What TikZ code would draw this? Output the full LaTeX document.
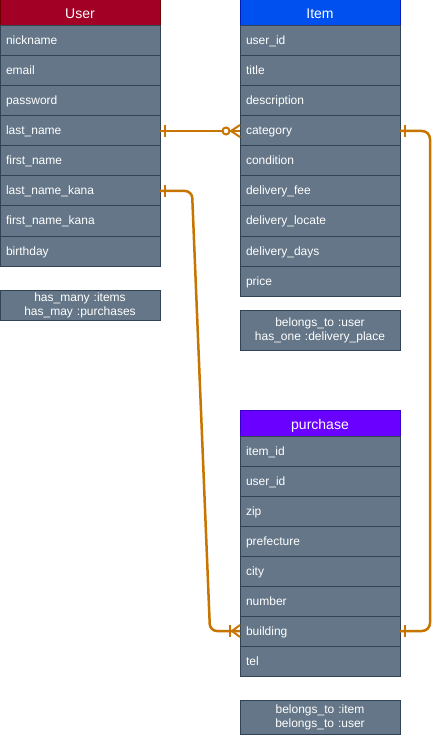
\documentclass[tikz,border=0pt]{standalone}
\usepackage{fontspec}
\setmainfont{Liberation Sans}
\definecolor{rowfill}{HTML}{647687}
\definecolor{rowline}{HTML}{314354}
\definecolor{userhead}{HTML}{A20025}
\definecolor{userheadline}{HTML}{6F0000}
\definecolor{itemhead}{HTML}{0050EF}
\definecolor{itemheadline}{HTML}{001DBC}
\definecolor{purchhead}{HTML}{6A00FF}
\definecolor{purchheadline}{HTML}{3700CC}
\definecolor{conn}{HTML}{C87400}
\begin{document}
\begin{tikzpicture}[x=1pt,y=-1pt,
  rowbox/.style={draw=rowline, fill=rowfill, text=white, text width=148pt, minimum height=30pt,
    text height=10pt, text depth=2pt,
    inner xsep=6pt, inner ysep=0pt, align=left, anchor=north west, outer sep=0pt,
    font=\fontsize{12}{14}\selectfont, line width=1pt},
  headbox/.style={draw=#1line, fill=#1, text=white, text width=148pt, minimum height=26pt,
    text height=12pt, text depth=0pt,
    inner xsep=6pt, inner ysep=0pt, align=center, anchor=north west, outer sep=0pt,
    font=\fontsize{14}{16}\selectfont, line width=1pt},
  notebox/.style={draw=rowline, fill=rowfill, text=white, text width=148pt, minimum height=#1,
    inner xsep=6pt, inner ysep=0pt, align=center, anchor=north west, outer sep=0pt,
    font=\fontsize{12}{14}\selectfont, line width=1pt},
  connline/.style={draw=conn, line width=2.5pt},
  markline/.style={draw=conn, line width=2pt},
]
\useasboundingbox (0,0) rectangle (441,735);

% User table
\node[headbox=userhead] (user-h) at (0,0) {User};
\foreach \t [count=\i] in {nickname,email,password,last\_name,first\_name,last\_name\_kana,first\_name\_kana,birthday}
  \node[rowbox] (user-\i) at (0,{26+30*(\i-1)}) {\t};
\node[notebox=30pt] (user-n) at (0,290) {has\_many :items\\has\_may :purchases};

% Item table
\node[headbox=itemhead] (item-h) at (240,0) {Item};
\foreach \t [count=\i] in {user\_id,title,description,category,condition,delivery\_fee,delivery\_locate,delivery\_days,price}
  \node[rowbox] (item-\i) at (240,{26+30*(\i-1)}) {\t};
\node[notebox=40pt] (item-n) at (240,310) {belongs\_to :user\\has\_one :delivery\_place};

% purchase table
\node[headbox=purchhead] (purch-h) at (240,410) {purchase};
\foreach \t [count=\i] in {item\_id,user\_id,zip,prefecture,city,number,building,tel}
  \node[rowbox] (purch-\i) at (240,{436+30*(\i-1)}) {\t};
\node[notebox=34pt] (purch-n) at (240,700) {belongs\_to :item\\belongs\_to :user};

% Connector 1: User.last_name -- Item.category (one to zero-or-many)
\draw[connline] (user-4.east) -- (item-4.west);
\draw[markline] ([xshift=5pt]user-4.east) ++(0,-6) -- ++(0,12);
\draw[markline] ([xshift=-9pt]item-4.west) -- ++(9,-6);
\draw[markline] ([xshift=-9pt]item-4.west) -- ++(9,6);
\draw[markline, fill=white] ([xshift=-14pt]item-4.west) circle[radius=3.5pt];

% Connector 2: User.last_name_kana -- purchase.building (one to one-or-many)
\draw[connline, rounded corners=7pt] (user-6.east) -- (192,191) -- (210,631) -- (purch-7.west);
\draw[markline] ([xshift=5pt]user-6.east) ++(0,-6) -- ++(0,12);
\draw[markline] ([xshift=-10pt]purch-7.west) ++(0,-6) -- ++(0,12);
\draw[markline] ([xshift=-8pt]purch-7.west) -- ++(8,-6);
\draw[markline] ([xshift=-8pt]purch-7.west) -- ++(8,6);

% Connector 3: Item.category -- purchase.building (one to one)
\draw[connline, rounded corners=8pt] (item-4.east) -- (430,131) -- (430,631) -- (purch-7.east);
\draw[markline] ([xshift=5pt]item-4.east) ++(0,-6) -- ++(0,12);
\draw[markline] ([xshift=5pt]purch-7.east) ++(0,-6) -- ++(0,12);
\end{tikzpicture}
\end{document}
